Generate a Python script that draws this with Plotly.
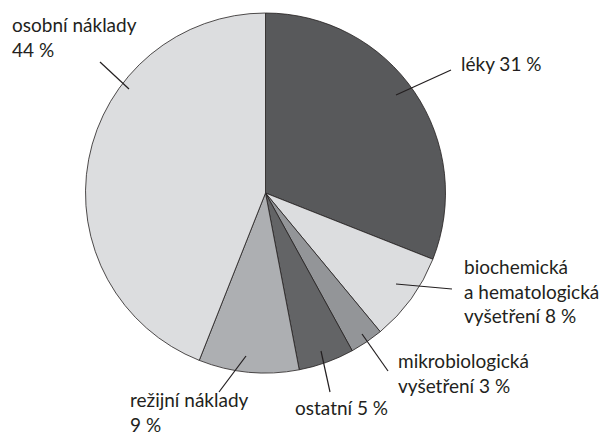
import plotly.graph_objects as go

categories = ["léky", "biochemická a hematologická vyšetření", "mikrobiologická vyšetření",
              "ostatní", "režijní náklady", "osobní náklady"]
values = [31, 8, 3, 5, 9, 44]
colors = ["#58595b", "#dcdddf", "#939598", "#636466", "#adafb2", "#dcdddf"]

# label text lines
label_lines = [
    ["léky 31 %"],
    ["biochemická", "a hematologická", "vyšetření 8 %"],
    ["mikrobiologická", "vyšetření 3 %"],
    ["ostatní 5 %"],
    ["režijní náklady", "9 %"],
    ["osobní náklady", "44 %"],
]

# The page body has an 8px margin; coordinates below are window pixels.
OFF = 8
W, H = 612 - OFF, 438 - OFF
FS = 19
STEP = FS * 1.3
# layout: text anchor (x px, first-line center y px, xanchor), leader line (x0,y0,x1,y1) px
label_layout = [
    (459, 63, "left", (396, 95, 451, 70)),
    (462, 266, "left", (396, 284, 452, 289)),
    (396, 361, "left", (362, 334, 388, 371)),
    (390, 407, "right", (321, 351, 330, 392)),
    (128, 400, "left", (246, 356, 219, 392)),
    (10, 25, "left", (129, 89, 100, 62)),
]

def px(x):
    return (x - OFF) / W

def py(y):
    return 1 - (y - OFF) / H

fig = go.Figure(go.Pie(
    labels=categories,
    values=values,
    sort=False,
    direction="clockwise",
    rotation=0,
    marker=dict(colors=colors, line=dict(color="#231f20", width=0.8)),
    textinfo="none",
    hoverinfo="label+percent",
    domain=dict(x=[px(85.5), px(445.5)], y=[py(373), py(13)]),
    showlegend=False,
))

annotations = []
shapes = []
for lines, (tx, ty, xa, (x0, y0, x1, y1)) in zip(label_lines, label_layout):
    n = len(lines)
    cy = ty + (n - 1) * STEP / 2
    annotations.append(dict(
        x=px(tx), y=py(cy), xref="paper", yref="paper",
        text="<br>".join(lines), showarrow=False, xanchor=xa, yanchor="middle",
        align=xa,
        font=dict(family="Lato", size=FS, color="#231f20"),
    ))
    shapes.append(dict(type="line", xref="paper", yref="paper",
                       x0=px(x0), y0=py(y0), x1=px(x1), y1=py(y1),
                       line=dict(color="#231f20", width=1.2)))

fig.update_layout(
    width=W, height=H,
    margin=dict(l=0, r=0, t=0, b=0),
    paper_bgcolor="white",
    plot_bgcolor="white",
    annotations=annotations,
    shapes=shapes,
)

fig.write_html("out.html")
